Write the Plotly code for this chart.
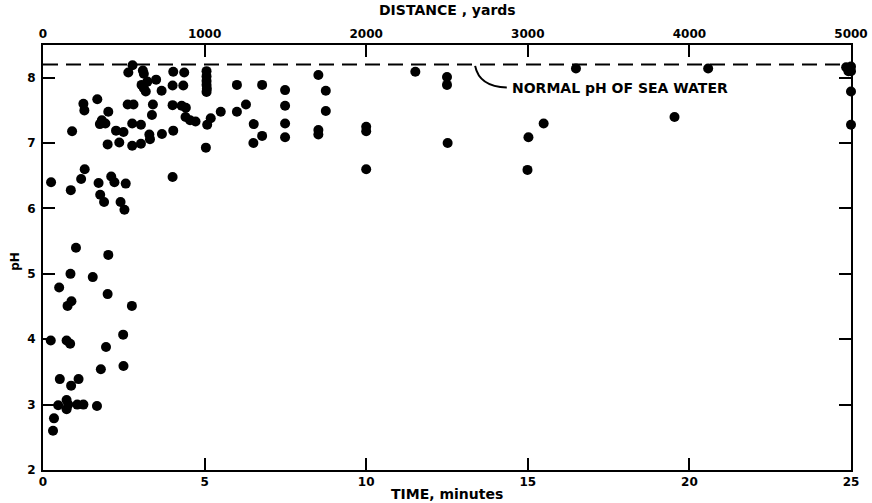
import plotly.graph_objects as go

# Time (minutes) and pH readings
time_min = [
    0.25, 0.86, 1.18, 1.29, 0.90, 1.25, 1.28, 1.68, 2.02, 1.76, 1.82, 1.93, 2.00,
    1.72, 1.77, 1.89, 2.11, 2.21, 2.40, 2.52, 2.56, 2.26, 2.49, 2.36, 2.64, 2.77,
    2.62, 2.80, 2.76, 3.03, 2.76, 3.03, 3.09, 3.12, 3.05, 3.12, 3.18, 3.23, 3.50,
    3.67, 3.40, 3.37, 3.29, 3.31, 3.68, 4.03, 4.37, 4.01, 4.34, 4.01, 4.29, 4.42,
    4.03, 4.01, 4.41, 4.55, 4.72, 5.06, 5.06, 5.06, 5.06, 5.07, 5.06, 5.19, 5.08,
    5.04, 5.50, 6.00, 6.00, 6.28, 6.52, 6.51, 6.78, 6.78, 7.49, 7.49, 7.49, 7.49,
    8.52, 8.75, 8.75, 8.52, 8.52, 10.0, 10.0, 10.0, 11.52, 12.5, 12.5, 12.52,
    15.02, 14.99, 15.49, 16.49, 20.58, 19.54, 24.85, 25.0, 24.92, 25.0, 25.0, 25.0,
    1.02, 2.02, 0.85, 1.54, 0.50, 2.00, 0.88, 0.76, 2.75, 0.24, 0.73, 0.84, 2.48,
    1.95, 1.79, 2.49, 0.52, 1.10, 0.87, 0.47, 0.73, 0.78, 0.73, 1.06, 1.25, 1.67,
    0.34, 0.31,
]
ph = [
    6.40, 6.28, 6.45, 6.60, 7.18, 7.60, 7.50, 7.67, 7.48, 7.29, 7.35, 7.30, 6.98,
    6.39, 6.21, 6.10, 6.49, 6.40, 6.10, 5.98, 6.38, 7.19, 7.17, 7.01, 8.08, 8.19,
    7.59, 7.59, 7.30, 7.28, 6.96, 6.99, 8.11, 8.06, 7.89, 7.84, 7.79, 7.94, 7.97,
    7.80, 7.59, 7.43, 7.13, 7.06, 7.14, 8.09, 8.08, 7.88, 7.88, 7.58, 7.57, 7.54,
    7.19, 6.48, 7.40, 7.35, 7.33, 8.10, 8.02, 7.95, 7.89, 7.83, 7.78, 7.38, 7.28,
    6.93, 7.48, 7.89, 7.48, 7.59, 7.29, 7.00, 7.11, 7.89, 7.81, 7.57, 7.30, 7.09,
    8.04, 7.80, 7.49, 7.20, 7.13, 7.25, 7.18, 6.60, 8.09, 8.01, 7.89, 7.00,
    7.09, 6.59, 7.30, 8.14, 8.14, 7.40, 8.16, 8.17, 8.10, 8.10, 7.79, 7.28,
    5.40, 5.29, 5.00, 4.95, 4.79, 4.69, 4.58, 4.51, 4.51, 3.98, 3.98, 3.93, 4.07,
    3.88, 3.54, 3.59, 3.39, 3.39, 3.29, 2.99, 3.07, 3.00, 2.93, 3.00, 3.00, 2.98,
    2.79, 2.60,
]

normal_ph = 8.2
time_ticks = [0, 5, 10, 15, 20, 25]
dist_ticks = [0, 1000, 2000, 3000, 4000, 5000]
ph_ticks = [2, 3, 4, 5, 6, 7, 8]

FONT = "DejaVu Sans"

fig = go.Figure()
fig.add_trace(go.Scatter(
    x=time_min, y=ph, mode="markers",
    marker=dict(color="black", size=10, line=dict(width=0)),
    cliponaxis=False, showlegend=False, hoverinfo="x+y",
))
# dummy trace for top distance axis
fig.add_trace(go.Scatter(x=[0, 5000], y=[None, None], xaxis="x2", yaxis="y",
                         mode="markers", showlegend=False, hoverinfo="skip"))

fig.add_shape(type="line", xref="x", yref="y", x0=0, x1=25, y0=normal_ph, y1=normal_ph,
              line=dict(color="black", width=2, dash="15px,8px"))
fig.add_shape(type="path", xref="x", yref="y",
              path="M 13.37,8.18 Q 13.5,7.86 14.35,7.85",
              line=dict(color="black", width=2))
fig.add_annotation(x=14.45, y=7.85, xref="x", yref="y", text="NORMAL pH OF SEA WATER",
                   showarrow=False, xanchor="left", yanchor="middle",
                   font=dict(family=FONT, size=14, color="black", weight="bold"))

fig.add_annotation(x=0.5, y=1, xref="paper", yref="paper", yshift=35,
                   text="DISTANCE , yards", showarrow=False, xanchor="center", yanchor="middle",
                   font=dict(family=FONT, size=14, color="black", weight="bold"))
fig.add_annotation(x=0.5, y=0, xref="paper", yref="paper", yshift=-24,
                   text="TIME, minutes", showarrow=False, xanchor="center", yanchor="middle",
                   font=dict(family=FONT, size=14, color="black", weight="bold"))
fig.add_annotation(x=0, y=0.49, xref="paper", yref="paper", xshift=-28,
                   text="pH", showarrow=False, textangle=-90, xanchor="center", yanchor="middle",
                   font=dict(family=FONT, size=12, color="black", weight="bold"))

axis_common = dict(showgrid=False, zeroline=False, showline=True, linecolor="black",
                   linewidth=2, ticks="inside", ticklen=12, tickwidth=2, tickcolor="black",
                   tickfont=dict(family=FONT, size=12, color="black", weight="bold"))

fig.update_layout(
    width=872, height=503,
    margin=dict(l=43, r=21, t=45, b=33),
    paper_bgcolor="white", plot_bgcolor="white",
    xaxis=dict(range=[0, 25], tickvals=time_ticks, automargin=False, **axis_common),
    xaxis2=dict(range=[0, 5000], tickvals=dist_ticks, overlaying="x", side="top",
                automargin=False, **axis_common),
    yaxis=dict(range=[2, 8.5], tickvals=ph_ticks, mirror="ticks", automargin=False,
               ticklabelstandoff=3, **axis_common),
)

fig.write_html("out.html", config={"displayModeBar": False},
               post_script="document.body.style.margin='0px';document.body.style.overflow='hidden';")
